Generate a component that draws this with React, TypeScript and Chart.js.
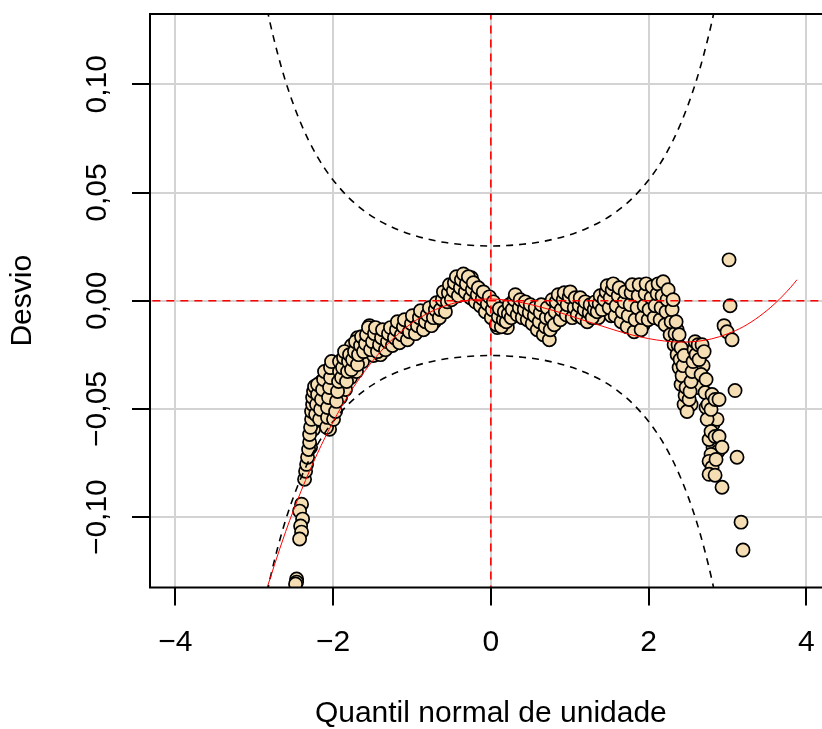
import React, { useEffect, useRef } from 'react';
import { Chart, registerables } from 'chart.js';

Chart.register(...registerables);

const FONT = "'Liberation Sans', Arial, Helvetica, sans-serif";

const xTickValues = [-4, -2, 0, 2, 4];
const xTickLabels = ['−4', '−2', '0', '2', '4'];
const yTickValues = [-0.1, -0.05, 0, 0.05, 0.1];
const yTickLabels = ['−0,10', '−0,05', '0,00', '0,05', '0,10'];

const xLimits = [-4.32, 4.32];
const yLimits = [-0.1325, 0.1325];

// worm points: unit normal quantile and deviation
const wormZ = [
  -2.462, -2.462, -2.475, -2.399, -2.424, -2.386, -2.411, -2.399, -2.424, -2.361,
  -2.348, -2.335, -2.323, -2.310, -2.297, -2.297, -2.285, -2.272, -2.272, -2.259,
  -2.259, -2.247, -2.234, -2.221, -2.209, -2.196, -2.196, -2.171, -2.158, -2.146,
  -2.133, -2.120, -2.108, -2.082, -2.070, -2.070, -2.057, -2.044, -2.032, -2.032,
  -2.019, -1.994, -1.968, -1.956, -1.943, -1.930, -1.918, -1.918, -1.892, -1.880,
  -1.867, -1.854, -1.829, -1.816, -1.804, -1.791, -1.766, -1.753, -1.728, -1.715,
  -1.690, -1.677, -1.652, -1.639, -1.614, -1.589, -1.576, -1.551, -1.525, -1.500,
  -1.475, -1.462, -1.437, -1.411, -1.386, -1.373, -1.335, -1.310, -1.297, -1.272,
  -1.247, -1.222, -1.196, -1.184, -1.158, -1.133, -1.108, -1.095, -1.057, -1.032,
  -1.006, -0.994, -0.956, -0.930, -0.905, -0.892, -0.854, -0.829, -0.804, -0.778,
  -0.753, -0.728, -0.703, -0.690, -0.652, -0.639, -0.614, -0.601, -0.576, -0.551,
  -0.538, -0.525, -0.500, -0.475, -0.462, -0.437, -0.411, -0.386, -0.373, -0.348,
  -0.323, -0.310, -0.285, -0.259, -0.234, -0.222, -0.196, -0.171, -0.158, -0.133,
  -0.108, -0.095, -0.070, -0.044, -0.019, 0.006, 0.019, 0.032, 0.070, 0.095,
  0.108, 0.133, 0.158, 0.171, 0.196, 0.222, 0.234, 0.259, 0.272, 0.297,
  0.310, 0.335, 0.361, 0.373, 0.399, 0.424, 0.437, 0.462, 0.487, 0.500,
  0.525, 0.551, 0.563, 0.589, 0.614, 0.627, 0.639, 0.665, 0.690, 0.703,
  0.715, 0.741, 0.753, 0.766, 0.778, 0.804, 0.816, 0.829, 0.854, 0.880,
  0.892, 0.918, 0.930, 0.956, 0.968, 0.994, 1.006, 1.032, 1.057, 1.070,
  1.095, 1.120, 1.133, 1.158, 1.184, 1.196, 1.222, 1.247, 1.259, 1.285,
  1.310, 1.323, 1.348, 1.373, 1.386, 1.411, 1.437, 1.462, 1.475, 1.500,
  1.513, 1.538, 1.551, 1.576, 1.589, 1.614, 1.627, 1.652, 1.665, 1.690,
  1.703, 1.728, 1.741, 1.766, 1.778, 1.791, 1.816, 1.829, 1.854, 1.867,
  1.880, 1.905, 1.918, 1.943, 1.956, 1.968, 1.994, 2.006, 2.032, 2.044,
  2.070, 2.082, 2.108, 2.120, 2.146, 2.158, 2.171, 2.184, 2.209, 2.221,
  2.234, 2.247, 2.272, 2.285, 2.297, 2.310, 2.323, 2.335, 2.348, 2.361,
  2.373, 2.386, 2.386, 2.399, 2.411, 2.411, 2.424, 2.437, 2.449, 2.449,
  2.462, 2.475, 2.487, 2.513, 2.525, 2.538, 2.551, 2.563, 2.576, 2.589,
  2.601, 2.627, 2.639, 2.665, 2.677, 2.703, 2.715, 2.728, 2.741, 2.753,
  2.791, 2.804, 2.842, 2.892, 2.766, 2.791, 2.842, 2.892, 2.930, 2.766,
  2.804, 2.854, 2.766, 2.842, 2.930, 3.019, 3.032, 2.956, 2.994, 3.057,
  3.095, 3.120, 3.171, 3.196,
];
const wormDev = [
  -0.1286, -0.1300, -0.1309, -0.0940, -0.0972, -0.1009, -0.1041, -0.1069, -0.1101, -0.0825,
  -0.0788, -0.0756, -0.0723, -0.0687, -0.0654, -0.0618, -0.0585, -0.0548, -0.0512, -0.0479,
  -0.0447, -0.0419, -0.0396, -0.0525, -0.0479, -0.0433, -0.0387, -0.0548, -0.0502, -0.0456,
  -0.0410, -0.0364, -0.0327, -0.0585, -0.0539, -0.0493, -0.0447, -0.0401, -0.0355, -0.0309,
  -0.0281, -0.0548, -0.0512, -0.0465, -0.0419, -0.0373, -0.0327, -0.0281, -0.0355, -0.0309,
  -0.0263, -0.0235, -0.0373, -0.0327, -0.0281, -0.0249, -0.0318, -0.0272, -0.0235, -0.0189,
  -0.0295, -0.0249, -0.0207, -0.0166, -0.0235, -0.0198, -0.0157, -0.0124, -0.0226, -0.0189,
  -0.0152, -0.0124, -0.0235, -0.0203, -0.0171, -0.0134, -0.0226, -0.0189, -0.0152, -0.0124,
  -0.0207, -0.0171, -0.0134, -0.0097, -0.0194, -0.0157, -0.0120, -0.0088, -0.0180, -0.0143,
  -0.0106, -0.0069, -0.0152, -0.0115, -0.0078, -0.0046, -0.0134, -0.0097, -0.0065, -0.0032,
  -0.0115, -0.0078, -0.0041, -0.0009, -0.0078, -0.0041, 0.0005, 0.0041, -0.0051, -0.0005,
  0.0037, 0.0074, 0.0005, 0.0046, 0.0083, 0.0111, 0.0023, 0.0060, 0.0097, 0.0124,
  0.0041, 0.0078, 0.0111, 0.0014, 0.0051, 0.0083, -0.0005, 0.0028, 0.0060, -0.0023,
  0.0009, 0.0041, -0.0051, -0.0014, 0.0018, -0.0078, -0.0041, -0.0005, -0.0111, -0.0074,
  -0.0037, -0.0120, -0.0088, -0.0051, -0.0097, -0.0060, -0.0018, -0.0078, -0.0041, 0.0005,
  0.0028, -0.0065, -0.0032, 0.0005, -0.0078, -0.0041, -0.0005, -0.0088, -0.0055, -0.0018,
  -0.0106, -0.0069, -0.0032, -0.0134, -0.0097, -0.0055, -0.0018, -0.0157, -0.0120, -0.0078,
  -0.0032, -0.0180, -0.0134, -0.0078, 0.0005, -0.0111, -0.0051, -0.0005, 0.0028, -0.0088,
  -0.0041, 0.0005, 0.0037, -0.0065, -0.0018, 0.0018, 0.0041, -0.0078, -0.0032, 0.0014,
  -0.0065, -0.0023, 0.0014, -0.0078, -0.0041, -0.0005, -0.0097, -0.0055, -0.0018, -0.0078,
  -0.0041, -0.0005, -0.0051, -0.0014, 0.0023, -0.0041, 0.0005, 0.0041, 0.0069, -0.0032,
  0.0014, 0.0051, 0.0078, -0.0069, -0.0023, 0.0023, 0.0060, -0.0097, -0.0051, -0.0005,
  0.0041, -0.0120, -0.0069, -0.0018, 0.0037, 0.0074, -0.0143, -0.0088, -0.0032, 0.0023,
  0.0074, -0.0134, -0.0078, -0.0023, 0.0032, 0.0078, -0.0088, -0.0041, 0.0014, 0.0065,
  -0.0078, -0.0023, 0.0032, 0.0078, -0.0088, -0.0032, 0.0023, 0.0088, -0.0111, -0.0051,
  0.0005, 0.0051, -0.0157, -0.0097, -0.0041, 0.0005, -0.0203, -0.0152, -0.0097, -0.0249,
  -0.0203, -0.0157, -0.0309, -0.0272, -0.0217, -0.0387, -0.0346, -0.0300, -0.0253, -0.0479,
  -0.0438, -0.0401, -0.0512, -0.0456, -0.0419, -0.0373, -0.0327, -0.0281, -0.0226, -0.0189,
  -0.0249, -0.0203, -0.0272, -0.0341, -0.0203, -0.0235, -0.0424, -0.0364, -0.0548, -0.0479,
  -0.0502, -0.0433, -0.0456, -0.0456, -0.0641, -0.0604, -0.0627, -0.0627, -0.0677, -0.0742,
  -0.0770, -0.0733, -0.0802, -0.0806, -0.0862, 0.0189, -0.0023, -0.0115, -0.0143, -0.0180,
  -0.0415, -0.0723, -0.1023, -0.1152,
];

// further worm points lying in the body of the worm
const wormZ2 = [
  -2.285, -2.247, -2.234, -2.184, -2.171, -2.146, -2.095, -2.095, -2.044, -2.006,
  -1.981, -1.905, -1.842, -1.778, -1.703, -1.627, -1.829, -1.766, -1.690, -1.538,
  -1.487, -1.399, -1.348, -1.259, -1.171, -1.082, -0.981, -0.880, -0.791, -0.715,
  -0.677, -0.589, -0.513, -0.449, -0.399, -0.335, -0.297, -0.247, -0.184, -0.120,
  -0.057, -0.006, 0.044, 0.082, 0.146, 0.209, 0.247, 0.323, 0.386, 0.449,
  0.513, 0.576, 0.652, 0.728, 0.791, 0.842, 0.905, 0.981, 1.044, 1.108,
  1.171, 1.234, 1.297, 1.361, 1.424, 1.487, 1.525, 1.601, 1.639, 1.677,
  1.715, 1.753, 1.804, 1.842, 1.892, 1.930, 1.981, 2.019, 2.057, 2.095,
  2.133, 2.196, 2.259, 2.310, 2.361, 2.424, 2.462, 2.487, 2.500, 2.538,
  2.576, 2.601, 2.627, 2.690, 2.728, 2.778, 2.816, 2.867, 2.816, 2.880,
  2.791,
];
const wormDev2 = [
  -0.0677, -0.0594, -0.0558, -0.0465, -0.0419, -0.0373, -0.0433, -0.0539, -0.0594, -0.0327,
  -0.0433, -0.0447, -0.0410, -0.0355, -0.0327, -0.0281, -0.0272, -0.0207, -0.0171, -0.0115,
  -0.0253, -0.0249, -0.0180, -0.0166, -0.0143, -0.0134, -0.0115, -0.0097, -0.0078, -0.0097,
  -0.0051, -0.0009, 0.0041, 0.0055, 0.0106, 0.0088, 0.0051, 0.0106, 0.0041, 0.0023,
  0.0005, -0.0032, -0.0065, -0.0124, -0.0078, -0.0124, -0.0051, -0.0018, -0.0051, -0.0065,
  -0.0088, -0.0078, -0.0088, -0.0097, -0.0041, -0.0032, -0.0060, -0.0041, -0.0005, -0.0041,
  -0.0018, -0.0069, -0.0023, -0.0078, -0.0018, 0.0023, -0.0069, -0.0005, 0.0023, -0.0078,
  -0.0032, 0.0014, -0.0051, -0.0115, 0.0005, -0.0111, -0.0005, 0.0041, -0.0051, 0.0005,
  0.0051, -0.0078, -0.0018, -0.0115, -0.0134, -0.0226, -0.0318, -0.0364, -0.0433, -0.0479,
  -0.0355, -0.0309, -0.0401, -0.0300, -0.0493, -0.0548, -0.0571, -0.0548, -0.0677, -0.0696,
  -0.0710,
];

// 95% pointwise band (upper; lower is its mirror)
const bandZ = [
  -2.9, -2.8, -2.7, -2.6, -2.5, -2.4, -2.3, -2.2, -2.1, -2.0, -1.8, -1.6, -1.4, -1.2, -1.0,
  -0.8, -0.6, -0.4, -0.2, 0, 0.2, 0.4, 0.6, 0.8, 1.0, 1.2, 1.4, 1.6, 1.8, 2.0, 2.1, 2.2,
  2.3, 2.4, 2.5, 2.6, 2.7, 2.8, 2.9,
];
const bandUpper = [
  0.1463, 0.1287, 0.1139, 0.1012, 0.0905, 0.0813, 0.0734, 0.0666, 0.0608, 0.0558, 0.0476,
  0.0414, 0.0367, 0.0332, 0.0305, 0.0285, 0.0270, 0.0261, 0.0255, 0.0253, 0.0255, 0.0261,
  0.0270, 0.0285, 0.0305, 0.0332, 0.0367, 0.0414, 0.0476, 0.0558, 0.0608, 0.0666, 0.0734,
  0.0813, 0.0905, 0.1012, 0.1139, 0.1287, 0.1463,
];
const bandLower = [
  -0.1463, -0.1287, -0.1139, -0.1012, -0.0905, -0.0813, -0.0734, -0.0666, -0.0608, -0.0558, -0.0476,
  -0.0414, -0.0367, -0.0332, -0.0305, -0.0285, -0.0270, -0.0261, -0.0255, -0.0253, -0.0255, -0.0261,
  -0.0270, -0.0285, -0.0305, -0.0332, -0.0367, -0.0414, -0.0476, -0.0558, -0.0608, -0.0666, -0.0734,
  -0.0813, -0.0905, -0.1012, -0.1139, -0.1287, -0.1463,
];

// fitted cubic (red)
const fitZ = [
  -2.9, -2.6, -2.4, -2.2, -2.0, -1.8, -1.6, -1.4, -1.2, -1.0, -0.8, -0.6, -0.4, -0.2, 0,
  0.2, 0.4, 0.6, 0.8, 1.0, 1.2, 1.4, 1.6, 1.8, 2.0, 2.2, 2.4, 2.6, 2.8, 3.0, 3.2, 3.4,
  3.6, 3.8, 3.88,
];
const fitDev = [
  -0.1398, -0.1066, -0.0875, -0.0707, -0.0560, -0.0433, -0.0326, -0.0236, -0.0162, -0.0103,
  -0.0058, -0.0026, -0.0005, 0.0006, 0.0008, 0.0003, -0.0009, -0.0026, -0.0046, -0.0069,
  -0.0093, -0.0116, -0.0139, -0.0159, -0.0175, -0.0186, -0.0191, -0.0188, -0.0176, -0.0153,
  -0.0120, -0.0073, -0.0013, 0.0062, 0.0097,
];

const zip = (xs: number[], ys: number[]) => xs.map((x, i) => ({ x, y: ys[i] }));

const boxPlugin = {
  id: 'plotBox',
  afterDatasetsDraw(chart: any) {
    const { ctx, chartArea } = chart;
    const { left, top, right, bottom } = chartArea;
    ctx.save();
    ctx.strokeStyle = '#000';
    ctx.lineWidth = 2;
    ctx.strokeRect(left, top, right - left, bottom - top);
    ctx.restore();
  },
};

const pointStyle = {
  showLine: false,
  backgroundColor: '#F5DEB3',
  borderColor: '#000',
  borderWidth: 1.7,
  pointRadius: 6.6,
  pointHoverRadius: 6.6,
};

export default function App() {
  const canvasRef = useRef<HTMLCanvasElement | null>(null);

  useEffect(() => {
    const canvas = canvasRef.current;
    if (!canvas) return;
    const chart = new Chart(canvas, {
      type: 'scatter',
      data: {
        datasets: [
          {
            label: 'h0',
            data: [{ x: -5, y: 0 }, { x: 5, y: 0 }],
            showLine: true,
            borderColor: '#FF0000',
            borderWidth: 1.6,
            borderDash: [8, 6],
            pointRadius: 0,
            order: 1,
          },
          {
            label: 'v0',
            data: [{ x: 0, y: -0.2 }, { x: 0, y: 0.2 }],
            showLine: true,
            borderColor: '#FF0000',
            borderWidth: 1.6,
            borderDash: [8, 6],
            pointRadius: 0,
            order: 1,
          },
          {
            label: 'fit',
            data: zip(fitZ, fitDev),
            showLine: true,
            borderColor: '#FF0000',
            borderWidth: 1,
            pointRadius: 0,
            cubicInterpolationMode: 'monotone',
            order: 2,
          },
          {
            label: 'upper',
            data: zip(bandZ, bandUpper),
            showLine: true,
            borderColor: '#000',
            borderWidth: 1.6,
            borderDash: [7, 6],
            pointRadius: 0,
            cubicInterpolationMode: 'monotone',
            order: 3,
          },
          {
            label: 'lower',
            data: zip(bandZ, bandLower),
            showLine: true,
            borderColor: '#000',
            borderWidth: 1.6,
            borderDash: [7, 6],
            pointRadius: 0,
            cubicInterpolationMode: 'monotone',
            order: 3,
          },
          { label: 'worm', data: zip(wormZ, wormDev), ...pointStyle, order: 5 },
          { label: 'worm2', data: zip(wormZ2, wormDev2), ...pointStyle, order: 6 },
        ],
      },
      options: {
        animation: false,
        responsive: false,
        devicePixelRatio: 1,
        events: [],
        layout: { padding: { top: 13.5, right: 7, left: 0, bottom: 0 } },
        plugins: { legend: { display: false }, tooltip: { enabled: false } },
        scales: {
          x: {
            type: 'linear',
            min: xLimits[0],
            max: xLimits[1],
            afterBuildTicks: (s: any) => {
              s.ticks = xTickValues.map((v) => ({ value: v }));
            },
            afterFit: (s: any) => {
              s.height = 141.5;
            },
            grid: {
              color: '#D3D3D3',
              lineWidth: 2,
              drawTicks: true,
              tickLength: 18,
              tickColor: '#000',
              tickWidth: 2,
            },
            border: { display: false },
            ticks: {
              color: '#000',
              font: { family: FONT, size: 30 },
              padding: 19,
              autoSkip: false,
              maxRotation: 0,
              minRotation: 0,
              callback: (v: any) => xTickLabels[xTickValues.indexOf(Number(v))],
            },
            title: {
              display: true,
              text: 'Quantil normal de unidade',
              color: '#000',
              font: { family: FONT, size: 30, lineHeight: 1 },
              padding: { top: 0, bottom: 0 },
            },
          },
          y: {
            type: 'linear',
            min: yLimits[0],
            max: yLimits[1],
            afterBuildTicks: (s: any) => {
              s.ticks = yTickValues.map((v) => ({ value: v }));
            },
            afterFit: (s: any) => {
              s.width = 150;
            },
            grid: {
              color: '#D3D3D3',
              lineWidth: 2,
              drawTicks: true,
              tickLength: 18,
              tickColor: '#000',
              tickWidth: 2,
            },
            border: { display: false },
            ticks: {
              color: '#000',
              font: { family: FONT, size: 30 },
              padding: -4,
              crossAlign: 'center',
              minRotation: 90,
              maxRotation: 90,
              autoSkip: false,
              callback: (v: any) => yTickLabels[yTickValues.indexOf(Number(v))],
            },
            title: {
              display: true,
              text: 'Desvio',
              color: '#000',
              font: { family: FONT, size: 30, lineHeight: 1.2 },
              padding: { top: 5, bottom: 0 },
            },
          },
        },
      },
      plugins: [boxPlugin],
    } as any);
    return () => chart.destroy();
  }, []);

  return (
    <div
      style={{
        position: 'fixed',
        left: 0,
        top: 0,
        width: 822,
        height: 729,
        overflow: 'hidden',
        background: '#fff',
      }}
    >
      <canvas
        ref={canvasRef}
        width={840}
        height={729}
        style={{ width: 840, height: 729, display: 'block' }}
      />
    </div>
  );
}
